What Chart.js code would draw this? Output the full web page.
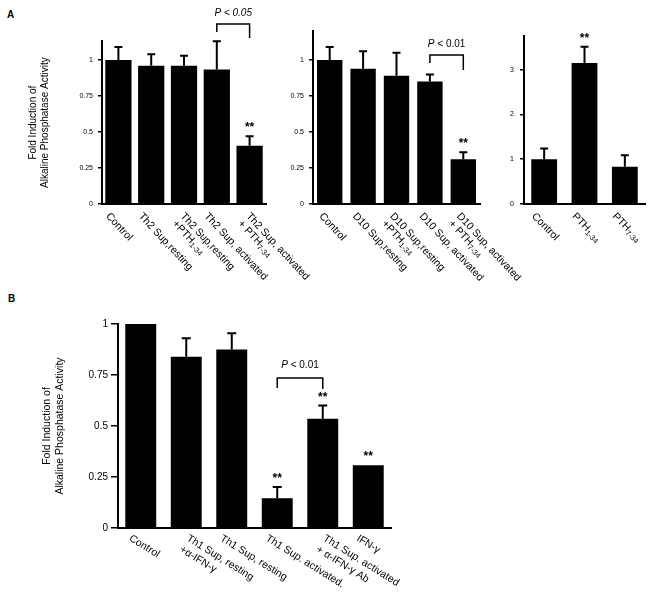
<!DOCTYPE html>
<html><head><meta charset="utf-8">
<script src="https://cdn.jsdelivr.net/npm/chart.js@4/dist/chart.umd.min.js"></script>
<style>
html,body{margin:0;padding:0;background:#fff;}
#wrap{position:relative;width:659px;height:600px;overflow:hidden;background:#fff;}
canvas{position:absolute;left:0;top:0;}
.lbl{position:absolute;font:bold 10px "Liberation Sans",Arial,sans-serif;color:#000;}
</style></head><body>
<div id="wrap">
<div class="lbl" style="left:7px;top:9px">A</div>
<div class="lbl" style="left:8px;top:293px">B</div>
<canvas id="a1" width="659" height="600"></canvas>
<canvas id="a2" width="659" height="600"></canvas>
<canvas id="a3" width="659" height="600"></canvas>
<canvas id="b1" width="659" height="600"></canvas>
</div>
<script>
// ---------- DATA ----------
const th2Labels = [["Control"], ["Th2 Sup,resting"], ["Th2 Sup,resting", "+PTH₁₋₃₄"], ["Th2 Sup, activated"], ["Th2 Sup, activated", "+ PTH₇₋₃₄"]];
const th2Values = [1.0, 0.96, 0.96, 0.935, 0.405];
const th2Errors = [0.09, 0.08, 0.07, 0.195, 0.065];
const th2Sig = [false, false, false, false, true];

const d10Labels = [["Control"], ["D10 Sup,resting"], ["D10 Sup,resting", "+PTH₁₋₃₄"], ["D10 Sup, activated"], ["D10 Sup, activated", "+ PTH₇₋₃₄"]];
const d10Values = [1.0, 0.94, 0.89, 0.85, 0.31];
const d10Errors = [0.09, 0.12, 0.16, 0.05, 0.05];
const d10Sig = [false, false, false, false, true];

const pthLabels = [["Control"], ["PTH₁₋₃₄"], ["PTH₇₋₃₄"]];
const pthValues = [1.0, 3.15, 0.83];
const pthErrors = [0.24, 0.36, 0.26];
const pthSig = [false, true, false];

const th1Labels = [["Control"], ["Th1 Sup, resting", "+α-IFN-γ"], ["Th1 Sup, resting"], ["Th1 Sup. activated."], ["Th1 Sup. activated", "+ α-IFN-γ Ab"], ["IFN-γ"]];
const th1Values = [1.0, 0.84, 0.875, 0.146, 0.535, 0.307];
const th1Errors = [0, 0.09, 0.08, 0.055, 0.065, 0];
const th1Sig = [false, false, false, true, true, true];

const fractionTicks = [0, 0.25, 0.5, 0.75, 1];
const foldTicks = [0, 1, 2, 3];
const yTitle = ["Fold Induction of", "Alkaline Phosphatase Activity"];

// ---------- RENDER ----------
const FONT = '"Liberation Sans", "DejaVu Sans", Arial, sans-serif';
const SUB = { '₀': '0', '₁': '1', '₂': '2', '₃': '3', '₄': '4', '₅': '5', '₆': '6', '₇': '7', '₈': '8', '₉': '9', '₋': '-' };

// draws text whose subscript characters are rendered as smaller, lowered glyphs
function drawRich(ctx, text, x, y, size) {
  const runs = [];
  for (const ch of text) {
    const sub = ch in SUB;
    const c = sub ? SUB[ch] : ch;
    if (runs.length && runs[runs.length - 1].sub === sub) runs[runs.length - 1].t += c;
    else runs.push({ sub, t: c });
  }
  let cx = x;
  runs.forEach(r => {
    const s = r.sub ? size * 0.72 : size;
    ctx.font = s + 'px ' + FONT;
    ctx.fillText(r.t, cx, y + (r.sub ? size * 0.42 : 0));
    cx += ctx.measureText(r.t).width;
  });
}

const extras = {
  id: 'extras',
  afterDatasetsDraw(chart) {
    const p = chart.options.plugins.extras;
    const ctx = chart.ctx, xs = chart.scales.x, ys = chart.scales.y;
    ctx.save();
    ctx.strokeStyle = '#000'; ctx.fillStyle = '#000';
    ctx.lineWidth = 2;
    p.values.forEach((v, i) => {
      const x = xs.getPixelForValue(i);
      const y0 = ys.getPixelForValue(v);
      let yTop = y0;
      if (p.errors[i] > 0) {
        yTop = ys.getPixelForValue(v + p.errors[i]);
        ctx.beginPath();
        ctx.moveTo(x, y0); ctx.lineTo(x, yTop);
        ctx.moveTo(x - p.cap / 2, yTop); ctx.lineTo(x + p.cap / 2, yTop);
        ctx.stroke();
      }
      if (p.sig[i]) {
        ctx.font = 'bold 12px ' + FONT;
        ctx.textAlign = 'center'; ctx.textBaseline = 'alphabetic';
        ctx.fillText('**', x, yTop - p.starGap);
      }
    });
    // category labels, rotated clockwise
    ctx.textAlign = 'left'; ctx.textBaseline = 'top';
    p.labels.forEach((lines, i) => {
      const x = xs.getPixelForValue(i) + p.labelDx + (lines.length - 1) * p.labelShift;
      const y = chart.chartArea.bottom + p.labelDy;
      ctx.save();
      ctx.translate(x, y);
      ctx.rotate(p.angle * Math.PI / 180);
      lines.forEach((t, k) => drawRich(ctx, t, 0, k * p.lineH, p.labelSize));
      ctx.restore();
    });
    // significance bracket
    const b = p.bracket;
    if (b) {
      const xl = xs.getPixelForValue(b.from), xr = xs.getPixelForValue(b.to);
      const yl = ys.getPixelForValue(b.y);
      ctx.lineWidth = 1.5;
      ctx.beginPath();
      ctx.moveTo(xl, ys.getPixelForValue(b.leftEnd));
      ctx.lineTo(xl, yl); ctx.lineTo(xr, yl);
      ctx.lineTo(xr, ys.getPixelForValue(b.rightEnd));
      ctx.stroke();
      const cx = (xl + xr) / 2, ty = yl - b.textGap;
      const fP = 'italic 10px ' + FONT;
      const fR = (b.allItalic ? 'italic ' : '') + '10px ' + FONT;
      ctx.font = fP; const wP = ctx.measureText('P').width;
      ctx.font = fR; const wR = ctx.measureText(b.rest).width;
      const x0 = cx - (wP + wR) / 2;
      ctx.textAlign = 'left'; ctx.textBaseline = 'middle';
      ctx.font = fP; ctx.fillText('P', x0, ty);
      ctx.font = fR; ctx.fillText(b.rest, x0 + wP, ty);
    }
    ctx.restore();
  }
};

function panel(id, o) {
  new Chart(document.getElementById(id), {
    type: 'bar',
    data: {
      labels: o.labels.map(l => l.join(' ')),
      datasets: [{ data: o.values, backgroundColor: '#000', borderWidth: 0,
        barPercentage: o.barPct, categoryPercentage: 1 }]
    },
    options: {
      responsive: false, animation: false, devicePixelRatio: 1,
      layout: { padding: { left: o.area.left - o.yWidth, right: 659 - o.area.right, top: o.area.top, bottom: 0 } },
      plugins: {
        legend: { display: false }, tooltip: { enabled: false },
        extras: {
          values: o.values, errors: o.errors, sig: o.sig, labels: o.labels,
          cap: o.cap, starGap: o.starGap, labelSize: o.labelSize, angle: o.angle,
          lineH: o.lineH, labelDx: o.labelDx, labelShift: o.labelShift, labelDy: o.labelDy,
          bracket: o.bracket
        }
      },
      scales: {
        x: {
          ticks: { display: false }, grid: { display: false },
          border: { display: true, color: '#000', width: 2 },
          afterFit: s => { s.height = 600 - o.area.bottom; }
        },
        y: {
          min: 0, max: o.max,
          afterBuildTicks: s => { s.ticks = o.ticks.map(v => ({ value: v })); },
          ticks: { color: '#000', font: { size: o.tickSize, family: FONT }, padding: o.tickPad,
            callback: v => String(v) },
          grid: { display: true, drawOnChartArea: false, drawTicks: true, tickLength: o.tickLen,
            color: '#000', lineWidth: 1.5 },
          border: { display: true, color: '#000', width: 2 },
          title: o.title ? { display: true, text: o.title, color: '#000',
            font: { size: o.titleSize, family: FONT, lineHeight: 1.2 }, padding: { top: o.titlePad, bottom: 0 } } : { display: false },
          afterFit: s => { s.width = o.yWidth; }
        }
      }
    },
    plugins: [extras]
  });
}

panel('a1', {
  labels: th2Labels, values: th2Values, errors: th2Errors, sig: th2Sig, ticks: fractionTicks,
  area: { left: 102, right: 266, top: 41.3, bottom: 204 }, yWidth: 102, max: 1.13,
  barPct: 0.8, cap: 8, starGap: 5, labelSize: 10.5, angle: 47, lineH: 11, labelDx: -7, labelShift: 9, labelDy: 7,
  tickSize: 7, tickPad: 5, tickLen: 4, title: yTitle, titleSize: 10, titlePad: 27,
  bracket: { from: 3, to: 4, y: 1.25, leftEnd: 1.194, rightEnd: 1.153, rest: ' < 0.05', allItalic: true, textGap: 11 }
});
panel('a2', {
  labels: d10Labels, values: d10Values, errors: d10Errors, sig: d10Sig, ticks: fractionTicks,
  area: { left: 313, right: 480, top: 31.2, bottom: 204 }, yWidth: 40, max: 1.2,
  barPct: 0.76, cap: 8, starGap: 5, labelSize: 10.5, angle: 47, lineH: 11, labelDx: -5, labelShift: 4, labelDy: 7,
  tickSize: 7, tickPad: 5, tickLen: 4,
  bracket: { from: 3, to: 4, y: 1.035, leftEnd: 0.98, rightEnd: 0.93, rest: ' < 0.01', allItalic: false, textGap: 11 }
});
panel('a3', {
  labels: pthLabels, values: pthValues, errors: pthErrors, sig: pthSig, ticks: foldTicks,
  area: { left: 524, right: 645, top: 36, bottom: 204 }, yWidth: 30, max: 3.75,
  barPct: 0.64, cap: 8, starGap: 5, labelSize: 10.5, angle: 46, lineH: 11, labelDx: -7, labelShift: 8, labelDy: 7,
  tickSize: 7, tickPad: 6, tickLen: 4
});
panel('b1', {
  labels: th1Labels, values: th1Values, errors: th1Errors, sig: th1Sig, ticks: fractionTicks,
  area: { left: 118, right: 391, top: 324, bottom: 528 }, yWidth: 118, max: 1,
  barPct: 0.68, cap: 9, starGap: 5, labelSize: 10.5, angle: 32, lineH: 13, labelDx: -8, labelShift: 12, labelDy: 5,
  tickSize: 10, tickPad: 3, tickLen: 7, title: yTitle, titleSize: 10.5, titlePad: 41,
  bracket: { from: 3, to: 4, y: 0.735, leftEnd: 0.686, rightEnd: 0.681, rest: ' < 0.01', allItalic: false, textGap: 13 }
});
</script>
</body></html>
